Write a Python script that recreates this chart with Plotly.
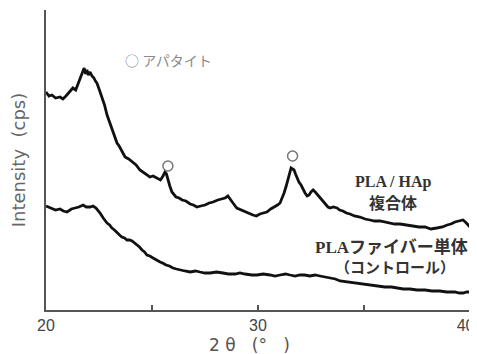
import plotly.graph_objects as go

# PLA/HAp composite (upper curve)
hap_theta = [20.0, 20.14, 20.28, 20.45, 20.66, 20.8, 20.94, 21.1, 21.27, 21.4, 21.5, 21.6, 21.7, 21.8, 21.87,
             21.93, 22.0, 22.08, 22.17, 22.26, 22.33, 22.4, 22.52, 22.64, 22.76, 22.88, 23.0, 23.11, 23.23,
             23.35, 23.45, 23.54, 23.63, 23.73, 23.9, 24.1, 24.25, 24.43, 24.65, 24.9, 25.05, 25.24, 25.4,
             25.52, 25.61, 25.68, 25.75, 25.84, 25.94, 26.03, 26.13, 26.28, 26.42, 26.6, 26.8, 26.95, 27.12,
             27.3, 27.5, 27.7, 27.88, 28.1, 28.3, 28.45, 28.58, 28.7, 28.82, 29.0, 29.2, 29.39, 29.55, 29.76,
             29.92, 30.09, 30.25, 30.42, 30.6, 30.8, 30.92, 31.04, 31.13, 31.23, 31.33, 31.42, 31.5, 31.56,
             31.63, 31.7, 31.77, 31.84, 31.93, 32.03, 32.12, 32.22, 32.32, 32.41, 32.5, 32.6, 32.7, 32.78,
             32.88, 32.97, 33.1, 33.21, 33.3, 33.4, 33.55, 33.73, 33.85, 34.0, 34.17, 34.34, 34.55, 34.81,
             35.05, 35.28, 35.5, 35.75, 36.0, 36.23, 36.45, 36.7, 37.0, 37.31, 37.6, 37.88, 38.15, 38.44,
             38.7, 38.92, 39.1, 39.29, 39.5, 39.67, 39.78, 39.86, 40.0]
hap_int = [218, 214, 215, 212, 213, 211, 214, 218, 222, 220, 226, 230, 238, 242, 236,
           240, 235, 238, 234, 232, 229, 227, 220, 213, 205, 195, 188, 180, 174,
           167, 164, 160, 157, 153, 151, 147, 145, 140, 137, 133, 134, 132, 130,
           134, 138, 136, 130, 124, 118, 116, 113, 112, 110, 109, 106, 105, 103,
           104, 105, 107, 108, 110, 111, 112, 114, 111, 107, 102, 100, 98, 97, 95,
           94, 96, 97, 98, 101, 103, 105, 107, 111, 117, 124, 132, 137, 142,
           141, 140, 136, 132, 128, 125, 121, 117, 114, 115, 118, 120, 118, 116,
           113, 111, 108, 105, 103, 102, 103, 102, 100, 99, 97, 96, 94, 93,
           91, 90, 89, 89, 88, 87, 86, 86, 85, 84, 83, 83, 81, 82,
           83, 85, 86, 88, 89, 90, 88, 86, 83]

# PLA fiber alone (control, lower curve)
pla_theta = [20.0, 20.14, 20.28, 20.45, 20.66, 20.82, 20.99, 21.2, 21.37, 21.55, 21.75, 21.9, 22.08, 22.22,
             22.36, 22.45, 22.55, 22.7, 22.88, 23.0, 23.11, 23.23, 23.35, 23.47, 23.58, 23.7, 23.82, 23.94,
             24.06, 24.18, 24.29, 24.41, 24.53, 24.65, 24.76, 24.9, 25.05, 25.2, 25.38, 25.5, 25.66, 25.82,
             25.99, 26.15, 26.32, 26.55, 26.8, 27.05, 27.26, 27.5, 27.74, 28.05, 28.35, 28.6, 28.92, 29.15,
             29.39, 29.7, 29.95, 30.25, 30.57, 30.8, 31.04, 31.3, 31.51, 31.75, 31.98, 32.2, 32.45, 32.7,
             32.92, 33.15, 33.4, 33.65, 33.87, 34.2, 34.58, 34.9, 35.28, 35.6, 35.99, 36.3, 36.56, 36.85,
             37.17, 37.5, 37.88, 38.2, 38.58, 38.9, 39.29, 39.5, 39.67, 39.85, 40.0]
pla_int = [104, 103, 102, 100, 101, 99, 98, 101, 102, 103, 105, 103, 103, 104,
           102, 100, 97, 92, 87, 85, 82, 80, 77, 75, 73, 72, 70, 70,
           69, 67, 65, 63, 60, 58, 55, 54, 52, 50, 48, 47, 45, 44,
           42, 41, 40, 39, 38, 39, 38, 37, 37, 38, 37, 36, 36, 37,
           36, 35, 35, 36, 35, 34, 35, 36, 35, 34, 35, 35, 34, 35,
           34, 33, 32, 31, 29, 28, 27, 26, 25, 24, 23, 23, 22, 21,
           21, 20, 20, 19, 19, 18, 18, 17, 17, 18, 18]

# apatite peak markers
apatite_theta = [25.75, 31.63]
apatite_int = [144, 154]

x_tickvals = [20, 25, 30, 35, 40]
x_ticktext = ["20", "", "30", "", "40&nbsp;&nbsp;"]

fig = go.Figure()
fig.add_trace(go.Scatter(x=hap_theta, y=hap_int, mode="lines",
                         line=dict(color="#111", width=2.8), showlegend=False))
fig.add_trace(go.Scatter(x=pla_theta, y=pla_int, mode="lines",
                         line=dict(color="#111", width=2.8), showlegend=False))
fig.add_trace(go.Scatter(x=apatite_theta, y=apatite_int, mode="markers",
                         marker=dict(symbol="circle-open", size=10, color="#777",
                                     line=dict(width=1.5, color="#777")),
                         showlegend=False, cliponaxis=False))

cjk = "Liberation Serif, Noto Sans CJK JP"
fig.add_annotation(x=25.78, y=250, text="○ アパタイト", showarrow=False,
                   font=dict(family="Noto Sans CJK JP", size=14, color="#8a8a8a"))
fig.add_annotation(x=36.37, y=128, text="<b>PLA / HAp</b>", showarrow=False,
                   font=dict(family=cjk, size=16, color="#333"))
fig.add_annotation(x=36.37, y=107, text="<b>複合体</b>", showarrow=False,
                   font=dict(family=cjk, size=16, color="#333"))
fig.add_annotation(x=36.32, y=63, text="<b>PLAファイバー単体</b>", showarrow=False,
                   font=dict(family=cjk, size=17, color="#333"))
fig.add_annotation(x=36.45, y=42, text="<b>（コントロール）</b>", showarrow=False,
                   font=dict(family=cjk, size=15, color="#333"))
# x-axis title (placed as annotation to match the offset-left position)
fig.add_annotation(xref="paper", yref="paper", x=0.479, y=0, yshift=-35, yanchor="middle",
                   text="2 θ   (°   )", showarrow=False,
                   font=dict(family="DejaVu Sans", size=17, color="#555"))

# page body has an 8px default margin; figure sized/margined to compensate
fig.update_layout(
    width=477, height=346,
    margin=dict(l=38, r=15, t=2, b=44),
    paper_bgcolor="white", plot_bgcolor="white",
    font=dict(family="Liberation Sans, Noto Sans CJK JP", size=13, color="#444"),
    xaxis=dict(range=[20, 40], tickvals=x_tickvals, ticktext=x_ticktext, automargin=False,
               ticks="inside", ticklen=5, tickwidth=1.5, tickcolor="#555",
               ticklabeloverflow="allow",
               showline=True, linecolor="#555", linewidth=2, showgrid=False, zeroline=False,
               tickfont=dict(family="Liberation Sans", size=16, color="#444")),
    yaxis=dict(range=[0, 300], showticklabels=False, ticks="", automargin=False,
               showline=True, linecolor="#555", linewidth=2, showgrid=False, zeroline=False,
               title=dict(text="Intensity  (cps)", standoff=17,
                          font=dict(family="DejaVu Sans", size=18, color="#666"))),
)

fig.write_html("out.html")
